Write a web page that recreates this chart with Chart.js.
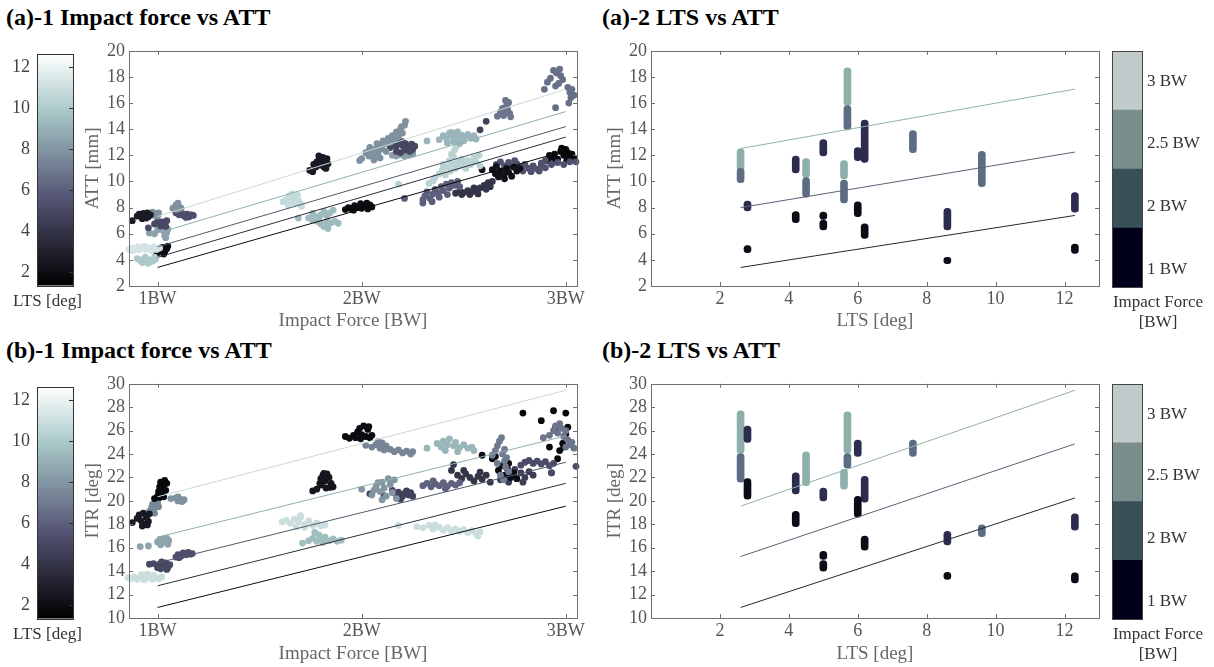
<!DOCTYPE html>
<html lang="en">
<head>
<meta charset="UTF-8">
<title>Impact force / LTS vs ATT and ITR</title>
<script src="https://cdn.jsdelivr.net/npm/chart.js"></script>
<style>
  body { margin: 0; background: #fff; font-family: 'Liberation Serif', 'Times New Roman', Tinos, 'DejaVu Serif', serif; }
  #page { position: relative; width: 1214px; height: 667px; overflow: hidden; }
  canvas { position: absolute; }
  .ttl { position: absolute; font-weight: bold; font-size: 24px; line-height: 26px; color: #000; white-space: nowrap; }
</style>
</head>
<body>
<div id="page">
  <div class="ttl" style="left:6px;top:4px">(a)-1 Impact force vs ATT</div>
  <div class="ttl" style="left:602px;top:4px">(a)-2 LTS vs ATT</div>
  <div class="ttl" style="left:6px;top:337px">(b)-1 Impact force vs ATT</div>
  <div class="ttl" style="left:602px;top:337px">(b)-2 LTS vs ATT</div>

  <canvas id="a1" width="515" height="300" style="left:75px;top:36px"></canvas>
  <canvas id="a2" width="515" height="300" style="left:595px;top:36px"></canvas>
  <canvas id="b1" width="515" height="297" style="left:75px;top:369px"></canvas>
  <canvas id="b2" width="515" height="297" style="left:595px;top:369px"></canvas>

  <canvas id="cbA1" width="95" height="280" style="left:0px;top:36px"></canvas>
  <canvas id="cbB1" width="95" height="280" style="left:0px;top:369px"></canvas>
  <canvas id="cbA2" width="112" height="301" style="left:1102px;top:36px"></canvas>
  <canvas id="cbB2" width="112" height="300" style="left:1102px;top:369px"></canvas>
</div>

<script>
// ---- axes / colour scales ----
const ltsMin = 1.33, ltsMax = 12.67;
const ltsTicks = [2, 4, 6, 8, 10, 12];
const forceTicks = [1, 2, 3];
const forceTickLabels = ['1BW', '2BW', '3BW'];
const attTicks = [2, 4, 6, 8, 10, 12, 14, 16, 18, 20];
const itrTicks = [10, 12, 14, 16, 18, 20, 22, 24, 26, 28, 30];
const ltsAxisTicks = [2, 4, 6, 8, 10, 12];

const forceLevels = [1, 2, 2.5, 3];
const forceLabels = ['1 BW', '2 BW', '2.5 BW', '3 BW'];
const forceLabelPos = [0.3, 1.37, 2.44, 3.48];
const forceBarColors = ['#00001a', '#3a5058', '#7b8e8e', '#c2cbcb'];
const forceDotColors = ['#0c0c16', '#2c2c50', '#5d6c82', '#8db0ab'];

// bone colormap
const boneStops = [[0, [0, 0, 0]], [0.375, [84, 84, 116]], [0.75, [167, 199, 199]], [1, [255, 255, 255]]];

// ---- (a)-1 impact force vs ATT : clusters (LTS of each subject) ----
const a1Lts = [2.7, 7.8, 5.0, 8.4, 7.8, 5.3, 11.3, 10.0, 1.9, 2.6, 10.8, 9.4, 1.9,
               7.8, 4.9, 8.3, 9.2, 4.6, 6.8, 10.4, 6.0, 4.0, 2.2, 5.4, 1.8, 6.6];
const a1Pts = [
  [[0.876,7.0],[0.90,7.35],[0.91,7.5],[0.92,7.3],[0.93,7.55],[0.94,7.4],[0.95,7.6],[0.955,7.3],[0.965,7.45],[0.925,7.15],[0.945,7.2]],
  [[0.965,7.5],[0.975,7.65],[0.99,7.55],[1.005,7.6],[0.985,7.4],[1.0,7.35]],
  [[0.955,6.45],[0.985,6.75],[1.0,6.95],[1.015,6.6],[1.03,6.8],[1.045,7.0],[1.04,6.55],[1.02,6.9]],
  [[0.96,6.05],[0.985,6.0],[1.0,6.3],[1.015,6.5],[1.03,6.2],[1.035,5.85],[1.045,6.1],[1.02,6.65],[1.005,6.6],[1.04,5.7],[1.05,6.35]],
  [[1.075,7.95],[1.09,8.2],[1.1,8.35],[1.105,8.05],[1.115,7.95],[1.095,7.85]],
  [[1.09,7.6],[1.105,7.45],[1.12,7.55],[1.13,7.35],[1.145,7.5],[1.155,7.3],[1.165,7.45],[1.175,7.4],[1.14,7.25],[1.11,7.7]],
  [[0.86,4.8],[0.875,4.9],[0.89,4.85],[0.905,5.0],[0.92,4.9],[0.935,5.05],[0.95,4.95],[0.965,4.85],[0.98,5.0],[0.995,4.8],[0.88,4.7],[0.91,4.75],[0.94,4.8],[0.97,4.7],[1.01,4.9]],
  [[0.9,4.1],[0.915,3.95],[0.93,4.05],[0.945,3.85],[0.96,4.0],[0.975,3.9],[0.99,4.05],[0.955,3.75],[0.925,3.8],[0.985,4.2],[0.94,4.2]],
  [[0.985,4.7],[1.0,4.55],[1.015,4.75],[1.025,4.95],[1.035,4.6],[1.045,4.85],[1.05,5.05],[1.03,4.45],[1.01,4.9]],
  [[1.745,10.85],[1.76,10.75],[1.765,11.3],[1.78,11.5],[1.795,11.7],[1.81,11.85],[1.82,11.55],[1.83,11.75],[1.8,11.25],[1.815,11.1],[1.835,11.35],[1.79,11.95],[1.775,11.1],[1.825,11.0]],
  [[1.615,8.45],[1.63,8.6],[1.645,8.9],[1.66,9.05],[1.675,8.8],[1.69,8.55],[1.7,8.3],[1.67,8.35],[1.655,8.65],[1.685,8.95],[1.705,8.1],[1.64,8.2]],
  [[1.69,7.2],[1.74,7.2],[1.76,7.55],[1.775,7.3],[1.79,7.0],[1.8,7.45],[1.815,7.7],[1.83,7.35],[1.845,7.6],[1.86,7.8],[1.8,6.75],[1.815,6.55],[1.83,6.9],[1.85,6.85],[1.87,6.95],[1.885,6.8],[1.78,6.95],[1.76,7.05],[1.835,6.4],[1.79,7.15]],
  [[1.92,7.85],[1.935,8.0],[1.95,7.9],[1.965,8.15],[1.98,8.0],[1.995,8.3],[2.01,8.1],[2.025,8.35],[2.04,8.2],[2.05,8.05],[1.96,7.8],[2.0,7.95],[2.03,7.9]],
  [[1.99,11.6],[2.0,11.75],[2.02,12.2],[2.035,11.95],[2.05,12.3],[2.06,12.0],[2.07,12.5],[2.08,12.2],[2.09,12.8],[2.1,12.5],[2.105,13.1],[2.12,12.9],[2.13,13.3],[2.14,13.0],[2.15,13.5],[2.16,13.2],[2.17,13.8],[2.18,13.45],[2.19,14.0],[2.2,13.7],[2.21,14.3],[2.215,14.6],[2.195,14.2],[2.06,11.65],[2.09,11.8],[2.12,12.3],[2.04,12.6],[2.075,12.9]],
  [[2.04,12.45],[2.14,12.6],[2.155,12.85],[2.17,12.7],[2.185,12.95],[2.2,12.75],[2.215,12.9],[2.23,12.65],[2.245,12.85],[2.26,12.7],[2.17,12.3],[2.19,12.2],[2.21,12.4],[2.235,12.3],[2.25,12.45],[2.16,13.1],[2.2,13.05]],
  [[2.15,12.0],[2.17,11.95],[2.19,12.05],[2.21,11.95],[2.23,12.0],[2.25,12.1]],
  [[2.32,13.1],[2.38,13.2],[2.4,13.5],[2.415,13.3],[2.43,13.7],[2.445,13.45],[2.46,13.6],[2.475,13.35],[2.49,13.55],[2.505,13.4],[2.52,13.6],[2.535,13.3],[2.55,13.5],[2.56,13.25],[2.45,13.05],[2.48,12.9],[2.42,12.95],[2.5,13.1],[2.44,13.75],[2.47,13.8]],
  [[2.58,13.95],[2.61,14.6]],
  [[2.665,15.0],[2.68,15.3],[2.69,15.6],[2.7,15.4],[2.71,15.8],[2.72,16.05],[2.715,15.5],[2.725,15.2],[2.73,14.95],[2.705,16.2],[2.695,15.05]],
  [[2.18,9.8],[2.33,9.85],[2.35,10.05],[2.36,10.3],[2.38,10.6],[2.395,10.9],[2.41,10.5],[2.42,11.1],[2.435,10.8],[2.45,11.3],[2.46,11.0],[2.47,11.5],[2.48,11.2],[2.49,11.7],[2.5,11.4],[2.51,11.0],[2.52,11.6],[2.535,11.3],[2.55,11.8],[2.56,11.5],[2.575,12.0],[2.58,11.2],[2.44,12.1],[2.455,12.4],[2.465,12.7],[2.45,11.9],[2.43,11.6],[2.4,11.3]],
  [[2.21,8.7],[2.3,8.6],[2.31,8.9],[2.32,9.2],[2.335,8.7],[2.35,9.05],[2.36,9.4],[2.375,9.1],[2.39,9.6],[2.4,9.3],[2.415,9.8],[2.43,9.5],[2.44,9.9],[2.455,9.7],[2.47,10.0],[2.48,9.6],[2.345,8.45],[2.38,8.8],[2.42,9.0],[2.3,8.35]],
  [[2.46,9.1],[2.48,9.25],[2.5,9.15],[2.52,9.3],[2.54,9.2],[2.56,9.35],[2.58,9.5],[2.6,9.7],[2.62,9.9],[2.63,9.6],[2.61,9.4],[2.57,9.05],[2.53,9.0],[2.49,9.0],[2.64,10.0],[2.55,9.5]],
  [[2.59,10.9],[2.64,10.9],[2.655,10.6],[2.67,10.35],[2.68,10.8],[2.695,10.5],[2.71,11.0],[2.72,10.7],[2.735,10.4],[2.745,11.1],[2.76,10.8],[2.775,11.0],[2.66,11.15],[2.7,10.2]],
  [[2.66,11.3],[2.68,11.5],[2.7,11.2],[2.72,11.45],[2.74,11.15],[2.76,11.35],[2.78,11.1],[2.8,11.3],[2.82,11.0],[2.84,11.2],[2.86,10.95],[2.88,11.15],[2.9,11.05],[2.79,10.8],[2.83,10.75],[2.87,10.8],[2.75,11.6],[2.71,10.9],[2.88,11.4],[2.9,11.6],[2.93,11.3],[2.96,11.45],[2.99,11.3],[3.02,11.5],[3.05,11.5]],
  [[2.91,11.6],[2.93,11.85],[2.945,12.1],[2.96,11.7],[2.975,12.3],[2.99,12.0],[3.0,12.45],[3.01,12.2],[3.02,11.9],[3.03,12.1],[3.04,11.75],[2.98,12.55],[2.95,11.5],[3.005,11.6],[2.92,12.0]],
  [[2.91,17.6],[2.925,17.9],[2.94,18.5],[2.955,18.3],[2.97,18.6],[2.975,18.1],[2.985,17.8],[2.965,17.5],[2.95,17.3],[3.01,17.2],[3.02,16.8],[3.03,17.05],[3.025,16.4],[3.015,16.0],[3.04,16.6],[2.895,17.05],[2.95,15.65]]
];
const fitColors5 = ['#c8dad6', '#8fb0ad', '#4f5a6a', '#2c2c3c', '#0a0a0a'];
const a1FitStart = [7.32, 6.05, 5.0, 4.2, 3.42];
const a1FitEnd = [17.05, 15.35, 14.2, 13.4, 12.35];

// ---- (b)-1 impact force vs ITR ----
const b1Lts = [1.8, 2.6, 7.5, 7.8, 8.5, 5.0, 5.3, 11.0, 2.4, 11.0, 9.5, 1.9, 7.4,
               8.0, 4.6, 9.2, 6.1, 4.0, 11.0, 7.0, 1.9, 4.4, 5.2, 6.8, 1.7, 5.0];
const b1Pts = [
  [[0.985,20.2],[1.0,20.4],[1.005,20.8],[1.01,21.2],[1.015,21.6],[1.02,20.6],[1.025,21.0],[1.03,21.4],[1.035,21.75],[1.04,20.9],[1.045,21.5],[1.01,20.3],[1.03,20.35]],
  [[0.876,18.15],[0.9,18.5],[0.91,18.8],[0.92,18.3],[0.93,18.95],[0.935,18.0],[0.945,18.6],[0.955,18.25],[0.96,18.9],[0.925,17.85],[0.95,17.95]],
  [[0.945,18.8],[0.96,19.1],[0.97,19.4],[0.98,19.2],[0.99,19.6],[1.0,19.85],[1.005,19.5],[0.985,18.95],[0.975,19.7]],
  [[1.065,20.2],[1.09,20.25],[1.1,20.0],[1.11,20.15],[1.12,19.95],[1.13,20.1],[1.1,20.35]],
  [[0.915,16.1],[0.955,16.15],[1.0,16.5],[1.01,16.7],[1.02,16.4],[1.03,16.75],[1.04,16.55],[1.05,16.3],[1.015,16.25],[1.045,16.8],[1.055,16.6]],
  [[0.96,14.6],[0.98,14.65],[1.0,14.3],[1.01,14.6],[1.02,14.8],[1.03,14.45],[1.04,14.7],[1.05,14.3],[1.06,14.55],[1.015,14.2],[1.045,14.15]],
  [[1.09,15.2],[1.1,15.4],[1.115,15.3],[1.125,15.55],[1.14,15.4],[1.15,15.6],[1.16,15.45],[1.17,15.5],[1.105,15.15]],
  [[0.855,13.45],[0.87,13.35],[0.885,13.5],[0.9,13.3],[0.915,13.45],[0.93,13.6],[0.945,13.4],[0.96,13.55],[0.975,13.3],[0.99,13.45],[1.005,13.35],[1.02,13.5],[0.92,13.7],[0.95,13.75],[0.98,13.65],[0.935,13.25]],
  [[1.76,20.85],[1.78,21.0],[1.795,21.5],[1.8,21.9],[1.81,22.2],[1.82,21.7],[1.83,22.3],[1.84,22.0],[1.85,21.5],[1.845,21.15],[1.86,21.2],[1.8,21.35],[1.825,21.1],[1.815,22.35]],
  [[1.61,18.2],[1.63,18.35],[1.65,18.1],[1.67,18.45],[1.69,18.2],[1.7,18.6],[1.72,18.0],[1.74,18.3],[1.76,17.9],[1.78,18.1],[1.8,17.85],[1.82,17.95],[1.68,17.8],[1.72,17.75],[1.7,18.75]],
  [[1.71,16.4],[1.74,16.6],[1.76,16.8],[1.78,16.55],[1.79,17.1],[1.8,16.7],[1.82,16.9],[1.84,16.6],[1.86,16.75],[1.88,16.55],[1.9,16.65],[1.77,17.3],[1.81,16.45]],
  [[1.92,25.5],[1.94,25.35],[1.96,25.6],[1.97,25.4],[1.98,25.9],[1.99,26.2],[2.0,25.65],[2.01,26.4],[2.02,25.5],[2.03,26.1],[2.04,25.4],[2.05,25.6],[1.995,25.3],[2.035,26.35]],
  [[2.02,24.75],[2.05,24.6],[2.07,24.8],[2.09,24.5],[2.1,24.95],[2.12,24.7],[2.14,24.4],[2.16,24.2],[2.18,24.35],[2.2,24.1],[2.22,24.25],[2.24,24.0],[2.25,24.2],[2.08,25.05],[2.11,24.35]],
  [[2.0,21.0],[2.05,20.5],[2.07,21.2],[2.09,20.8],[2.1,21.6],[2.11,21.1],[2.12,20.4],[2.13,21.9],[2.14,21.4],[2.15,20.7],[2.16,21.8],[2.17,20.2],[2.1,20.1],[2.08,21.55],[2.06,20.9]],
  [[2.04,20.6],[2.11,20.45],[2.15,20.9],[2.17,20.5],[2.18,20.75],[2.2,20.4],[2.21,20.65],[2.22,20.85],[2.23,20.5],[2.24,20.7],[2.25,20.4],[2.19,20.15]],
  [[2.32,24.5],[2.37,24.9],[2.39,24.6],[2.4,25.1],[2.42,24.8],[2.43,25.3],[2.45,24.7],[2.46,25.0],[2.48,24.55],[2.5,24.8],[2.52,24.5],[2.54,24.6],[2.55,24.3],[2.41,24.3],[2.47,24.2]],
  [[2.3,21.3],[2.32,21.5],[2.34,21.2],[2.36,21.45],[2.38,21.3],[2.4,21.55],[2.42,21.25],[2.44,21.5],[2.46,21.35],[2.48,21.55],[2.35,21.7],[2.41,21.05]],
  [[2.44,22.6],[2.47,22.2],[2.49,21.9],[2.51,22.3],[2.53,22.0],[2.55,21.7],[2.57,22.1],[2.59,21.85],[2.61,22.2],[2.63,21.6],[2.5,22.6],[2.58,22.45],[2.45,23.1]],
  [[2.18,17.9],[2.27,17.8],[2.3,17.7],[2.33,17.9],[2.35,17.6],[2.38,17.75],[2.4,17.5],[2.42,17.7],[2.44,17.45],[2.46,17.6],[2.48,17.4],[2.5,17.55],[2.52,17.3],[2.54,17.45],[2.56,17.2],[2.58,17.35],[2.57,17.0],[2.36,17.95]],
  [[2.64,23.9],[2.655,24.3],[2.665,24.7],[2.675,25.1],[2.685,25.4],[2.69,24.0],[2.7,23.4],[2.705,22.9],[2.71,23.7],[2.72,22.5],[2.68,22.2],[2.695,21.8],[2.665,23.2],[2.7,24.4]],
  [[2.64,23.6],[2.655,23.8],[2.67,22.6],[2.685,23.0],[2.7,22.2],[2.715,22.7],[2.73,22.0],[2.745,22.4],[2.76,21.9],[2.72,23.2],[2.59,23.9]],
  [[2.68,21.8],[2.7,22.1],[2.72,21.6],[2.74,22.3],[2.76,21.9],[2.78,22.4],[2.8,22.0],[2.82,22.5],[2.84,22.2],[2.75,22.7],[2.79,21.6]],
  [[2.8,23.3],[2.82,23.45],[2.84,23.2],[2.86,23.4],[2.88,23.15],[2.9,23.35],[2.92,23.0],[2.94,23.2],[2.93,22.4],[2.78,23.05]],
  [[2.92,25.6],[2.94,26.0],[2.95,26.4],[2.96,25.8],[2.97,26.6],[2.98,26.2],[2.99,25.5],[3.0,26.0],[3.01,25.2],[3.02,24.8],[3.03,25.0],[3.04,24.5],[3.0,24.6],[2.89,25.4]],
  [[2.79,27.5],[2.88,26.85],[2.94,27.7],[3.0,27.5],[2.93,22.4],[2.95,26.3],[2.97,24.3],[2.99,24.6],[3.0,25.7],[3.01,26.3],[2.96,23.6],[2.985,24.9],[2.92,24.6]],
  [[3.05,22.95]]
];
const b1FitStart = [20.35, 16.9, 14.7, 12.75, 10.9];
const b1FitEnd = [29.45, 25.55, 23.3, 21.5, 19.55];

// ---- (a)-2 LTS vs ATT : vertical runs per subject ----
const a2Lts   = [2.6, 2.6, 2.8, 2.8, 4.2, 4.2, 4.5, 4.5, 5.0, 5.0, 5.0, 5.6, 5.6, 5.7, 5.7, 6.0, 6.0, 6.2, 6.2, 7.6, 8.6, 8.6, 9.6, 12.3, 12.3];
const a2Lo    = [10.8, 9.9, 7.75, 4.55, 10.65, 6.85, 10.3, 8.8, 11.95, 6.3, 7.1, 10.2, 8.35, 15.8, 13.95, 11.6, 7.3, 11.45, 5.65, 12.2, 6.3, 3.7, 9.6, 7.65, 4.5];
const a2Hi    = [12.5, 11.0, 8.5, 5.1, 11.95, 7.7, 11.75, 10.3, 13.2, 7.05, 7.65, 11.6, 10.1, 18.7, 15.8, 12.6, 8.45, 14.7, 6.75, 13.9, 7.95, 4.2, 12.3, 9.15, 5.2];
const a2Force = [3, 2.5, 2, 1, 2, 1, 3, 2.5, 2, 1, 1, 3, 2.5, 3, 2.5, 2, 1, 2, 1, 2.5, 2, 1, 2.5, 2, 1];
const fitColors3 = ['#8fb0a8', '#586474', '#262636'];
const ltsFitX = [2.6, 12.3];
const a2FitStart = [12.52, 8.0, 3.42];
const a2FitEnd = [17.07, 12.25, 7.4];

// ---- (b)-2 LTS vs ITR ----
const b2Lts   = [2.6, 2.6, 2.8, 2.8, 4.2, 4.2, 4.5, 5.0, 5.0, 5.0, 5.6, 5.7, 5.7, 6.0, 6.0, 6.2, 6.2, 7.6, 8.6, 8.6, 9.6, 12.3, 12.3];
const b2Lo    = [24.05, 21.6, 25.0, 20.15, 20.6, 17.8, 21.3, 20.0, 14.0, 15.0, 21.0, 24.05, 22.8, 23.8, 18.6, 19.9, 15.8, 23.8, 16.25, 13.3, 16.95, 17.5, 13.0];
const b2Hi    = [27.7, 24.05, 26.4, 21.9, 22.4, 19.1, 24.2, 21.1, 14.9, 15.7, 22.7, 27.6, 24.05, 25.2, 20.4, 22.1, 17.0, 25.2, 17.4, 13.9, 17.95, 18.9, 13.85];
const b2Force = [3, 2.5, 2, 1, 2, 1, 3, 2, 1, 1, 3, 3, 2.5, 2, 1, 2, 1, 2.5, 2, 1, 2.5, 2, 1];
const b2FitStart = [19.55, 15.25, 10.9];
const b2FitEnd = [29.45, 24.87, 20.25];

// ---- helpers ----
Chart.defaults.font.family = "'Liberation Serif', 'Times New Roman', Tinos, 'DejaVu Serif', serif";

function rgb(c) { return 'rgb(' + c.map(Math.round).join(',') + ')'; }

function bone(lts) {
  let t = (lts - ltsMin) / (ltsMax - ltsMin);
  t = Math.min(1, Math.max(0, t));
  for (let i = 1; i < boneStops.length; i++) {
    const [t0, c0] = boneStops[i - 1], [t1, c1] = boneStops[i];
    if (t <= t1) {
      const f = (t - t0) / (t1 - t0);
      return rgb(c0.map((v, k) => v + (c1[k] - v) * f));
    }
  }
  return rgb(boneStops[boneStops.length - 1][1]);
}

// box round the plot area and inward tick marks (matlab look)
const frame = {
  id: 'frame',
  defaults: { color: '#777', tick: 0 },
  afterDatasetsDraw(chart, args, opts) {
    const { ctx, chartArea: a, scales } = chart;
    ctx.save();
    ctx.lineWidth = 1;
    ctx.strokeStyle = opts.color;
    ctx.strokeRect(Math.round(a.left) + 0.5, Math.round(a.top) + 0.5,
                   Math.round(a.right - a.left), Math.round(a.bottom - a.top));
    const len = opts.tick;
    ctx.beginPath();
    if (len && opts.xTicks) {
      scales.x.ticks.forEach(t => {
        const p = Math.round(scales.x.getPixelForValue(t.value)) + 0.5;
        ctx.moveTo(p, a.bottom); ctx.lineTo(p, a.bottom - len);
        ctx.moveTo(p, a.top); ctx.lineTo(p, a.top + len);
      });
    }
    if (len && opts.yTicks) {
      scales.y.ticks.forEach(t => {
        const p = Math.round(scales.y.getPixelForValue(t.value)) + 0.5;
        if (opts.yTicks !== 'right') { ctx.moveTo(a.left, p); ctx.lineTo(a.left + len, p); }
        ctx.moveTo(a.right, p); ctx.lineTo(a.right - len, p);
      });
    }
    ctx.stroke();
    ctx.restore();
  }
};
Chart.register(frame);

function clusterSets(lts, pts) {
  return pts.map((p, i) => ({
    data: p.map(([x, y]) => ({ x, y })),
    backgroundColor: bone(lts[i]),
    borderWidth: 0,
    pointRadius: 3.4,
    clip: false,
    order: 1
  }));
}

function fitSets(x0, x1, ys0, ys1, colors) {
  return ys0.map((y0, i) => ({
    type: 'line',
    data: [{ x: x0, y: y0 }, { x: x1, y: ys1[i] }],
    borderColor: colors[i],
    borderWidth: 1,
    pointRadius: 0,
    fill: false,
    order: 0
  }));
}

function runSets(xs, lo, hi, force) {
  return forceLevels.map((f, k) => ({
    type: 'bar',
    data: xs.map((x, i) => ({ x, y: [lo[i], hi[i]], f: force[i] }))
            .filter(d => d.f === f)
            .map(d => ({ x: d.x, y: d.y })),
    backgroundColor: forceDotColors[k],
    barThickness: 7,
    borderRadius: 4,
    borderSkipped: false,
    borderWidth: 0,
    grouped: false,
    order: 1
  }));
}

function panel(id, type, datasets, o) {
  return new Chart(document.getElementById(id), {
    type,
    data: { datasets },
    options: {
      responsive: false, animation: false, devicePixelRatio: 1, events: [],
      layout: { padding: { top: 10, right: o.padRight } },
      plugins: {
        legend: { display: false }, tooltip: { enabled: false },
        frame: { color: '#707070', tick: 4, xTicks: true, yTicks: true }
      },
      scales: {
        x: {
          type: 'linear', min: o.xMin, max: o.xMax, offset: false,
          afterBuildTicks: s => { s.ticks = o.xTicks.map(v => ({ value: v })); },
          afterFit: s => { s.height = o.xH; },
          grid: { display: false, drawTicks: false }, border: { display: false },
          ticks: { font: { size: 18 }, color: '#555', padding: 2, maxRotation: 0, autoSkip: false,
                   callback: (v, i) => o.xLabels ? o.xLabels[i] : v },
          title: { display: true, text: o.xTitle, font: { size: 19 }, color: '#666',
                   padding: { top: 0, bottom: o.xTitlePad } }
        },
        y: {
          type: 'linear', min: o.yMin, max: o.yMax,
          afterBuildTicks: s => { s.ticks = o.yTicks.map(v => ({ value: v })); },
          afterFit: s => { s.width = o.yW; },
          grid: { display: false, drawTicks: false }, border: { display: false },
          ticks: { font: { size: 18 }, color: '#555', padding: 4, autoSkip: false },
          title: { display: true, text: o.yTitle, font: { size: 19 }, color: '#666',
                   padding: { top: o.yTitlePad, bottom: 0 } }
        }
      }
    }
  });
}

function ltsColorbar(id, padTop) {
  return new Chart(document.getElementById(id), {
    type: 'bar',
    data: {
      labels: [''],
      datasets: [{
        data: [[ltsMin, ltsMax]],
        backgroundColor: c => {
          const ch = c.chart;
          if (!ch.chartArea) return '#888';
          const y = ch.scales.y;
          const g = ch.ctx.createLinearGradient(0, y.getPixelForValue(ltsMin), 0, y.getPixelForValue(ltsMax));
          boneStops.forEach(([t, col]) => g.addColorStop(t, rgb(col)));
          return g;
        },
        borderWidth: 0, barPercentage: 1, categoryPercentage: 1
      }]
    },
    options: {
      responsive: false, animation: false, devicePixelRatio: 1, events: [],
      layout: { padding: { top: padTop } },
      plugins: {
        legend: { display: false }, tooltip: { enabled: false },
        title: { display: true, position: 'bottom', text: 'LTS [deg]', color: '#333',
                 font: { size: 17, weight: 'normal' }, padding: { top: 6, bottom: 4 } },
        frame: { color: '#333', tick: 4, yTicks: 'right' }
      },
      scales: {
        x: { display: false },
        y: {
          min: ltsMin, max: ltsMax,
          afterBuildTicks: s => { s.ticks = ltsTicks.map(v => ({ value: v })); },
          afterFit: s => { s.width = 37; },
          grid: { display: false, drawTicks: false }, border: { display: false },
          ticks: { font: { size: 18 }, color: '#444', padding: 7, autoSkip: false }
        },
        y2: {
          position: 'right',
          afterFit: s => { s.width = 22; },
          grid: { display: false, drawTicks: false }, border: { display: false },
          ticks: { display: false }
        }
      }
    }
  });
}

function forceColorbar(id, padTop) {
  return new Chart(document.getElementById(id), {
    type: 'bar',
    data: {
      labels: [''],
      datasets: forceLevels.map((f, i) => ({
        data: [1], backgroundColor: forceBarColors[i], borderWidth: 0,
        barPercentage: 1, categoryPercentage: 1, stack: 'bar'
      }))
    },
    options: {
      responsive: false, animation: false, devicePixelRatio: 1, events: [],
      layout: { padding: { top: padTop } },
      plugins: {
        legend: { display: false }, tooltip: { enabled: false },
        title: { display: true, position: 'bottom', text: ['Impact Force', '[BW]'], color: '#333',
                 font: { size: 17, weight: 'normal' }, padding: { top: 5, bottom: 4 } },
        frame: { color: '#444', tick: 0 }
      },
      scales: {
        x: { display: false, stacked: true },
        y: {
          stacked: true, position: 'right', min: 0, max: forceLevels.length,
          afterBuildTicks: s => { s.ticks = forceLabelPos.map(v => ({ value: v })); },
          afterFit: s => { s.width = 72; },
          grid: { display: false, drawTicks: false }, border: { display: false },
          ticks: { font: { size: 17 }, color: '#333', padding: 5, autoSkip: false,
                   callback: (v, i) => forceLabels[i] }
        },
        yL: {
          position: 'left',
          afterFit: s => { s.width = 10; },
          grid: { display: false, drawTicks: false }, border: { display: false },
          ticks: { display: false }
        }
      }
    }
  });
}

// ---- draw ----
panel('a1', 'scatter',
  clusterSets(a1Lts, a1Pts).concat(fitSets(1, 3, a1FitStart, a1FitEnd, fitColors5)),
  { xMin: 0.86, xMax: 3.055, xTicks: forceTicks, xLabels: forceTickLabels, xTitle: 'Impact Force [BW]',
    yMin: 2, yMax: 20, yTicks: attTicks, yTitle: 'ATT [mm]',
    padRight: 13, xH: 50, yW: 54, xTitlePad: 4, yTitlePad: 7 });

panel('b1', 'scatter',
  clusterSets(b1Lts, b1Pts).concat(fitSets(1, 3, b1FitStart, b1FitEnd, fitColors5)),
  { xMin: 0.86, xMax: 3.055, xTicks: forceTicks, xLabels: forceTickLabels, xTitle: 'Impact Force [BW]',
    yMin: 10, yMax: 30, yTicks: itrTicks, yTitle: 'ITR [deg]',
    padRight: 13, xH: 48, yW: 54, xTitlePad: 1, yTitlePad: 7 });

panel('a2', 'bar',
  runSets(a2Lts, a2Lo, a2Hi, a2Force).concat(fitSets(ltsFitX[0], ltsFitX[1], a2FitStart, a2FitEnd, fitColors3)),
  { xMin: 0, xMax: 13, xTicks: ltsAxisTicks, xTitle: 'LTS [deg]',
    yMin: 2, yMax: 20, yTicks: attTicks, yTitle: 'ATT [mm]',
    padRight: 11, xH: 50, yW: 56, xTitlePad: 4, yTitlePad: 9 });

panel('b2', 'bar',
  runSets(b2Lts, b2Lo, b2Hi, b2Force).concat(fitSets(ltsFitX[0], ltsFitX[1], b2FitStart, b2FitEnd, fitColors3)),
  { xMin: 0, xMax: 13, xTicks: ltsAxisTicks, xTitle: 'LTS [deg]',
    yMin: 10, yMax: 30, yTicks: itrTicks, yTitle: 'ITR [deg]',
    padRight: 11, xH: 48, yW: 56, xTitlePad: 1, yTitlePad: 9 });

ltsColorbar('cbA1', 12);
ltsColorbar('cbB1', 11);
forceColorbar('cbA2', 11);
forceColorbar('cbB2', 9);
</script>
</body>
</html>
